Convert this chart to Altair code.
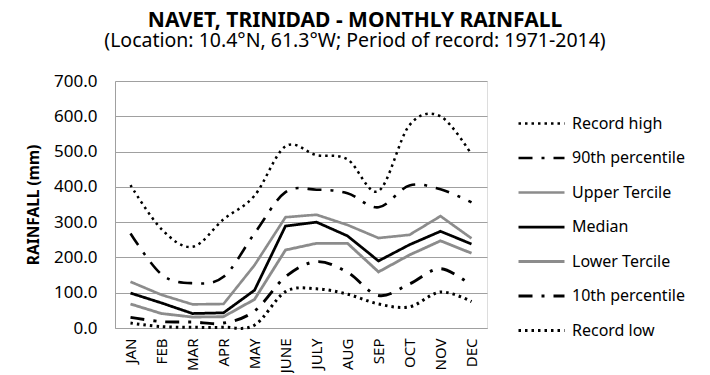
import altair as alt
import pandas as pd

months = ["JAN", "FEB", "MAR", "APR", "MAY", "JUNE", "JULY", "AUG", "SEP", "OCT", "NOV", "DEC"]
series_names = ["Record high", "90th percentile", "Upper Tercile", "Median",
                "Lower Tercile", "10th percentile", "Record low"]

record_high = [405, 280, 230, 308, 375, 515, 490, 478, 388, 575, 600, 492]
p90 = [268, 152, 127, 145, 268, 385, 392, 382, 342, 404, 393, 356]
upper_tercile = [131, 94, 67, 68, 178, 314, 321, 292, 255, 264, 317, 254]
median = [99, 71, 41, 43, 107, 289, 300, 261, 190, 236, 274, 238]
lower_tercile = [68, 41, 31, 32, 81, 221, 240, 240, 159, 207, 247, 212]
p10 = [30, 18, 17, 14, 48, 145, 188, 158, 92, 125, 168, 120]
record_low = [14, 4, 2, 2, 8, 103, 111, 96, 68, 60, 102, 75]

all_values = [record_high, p90, upper_tercile, median, lower_tercile, p10, record_low]
smooth_names = ["Record high", "90th percentile", "10th percentile", "Record low"]

rows = []
for name, vals in zip(series_names, all_values):
    for m, v in zip(months, vals):
        rows.append({"month": m, "value": v, "series": name,
                     "smooth": name in smooth_names})
df = pd.DataFrame(rows)

FONT = "Noto Sans"
dot = [2.5, 4]
dashdot = [14, 9, 3, 9]
colors = ["#000000", "#000000", "#8c8c8c", "#000000", "#8c8c8c", "#000000", "#000000"]
dashes = [dot, dashdot, [1, 0], [1, 0], [1, 0], dashdot, dot]
widths = [2.5, 3, 3, 3, 3, 3, 2.5]

legend = alt.Legend(title=None, orient="none", legendX=402, legendY=18,
                    symbolType="stroke", symbolSize=2116, labelFontSize=16,
                    labelFont=FONT, labelColor="#000000", rowPadding=1.5,
                    labelOffset=6, symbolStrokeColor="#000000")

enc = dict(
    x=alt.X("month:N", sort=months, scale=alt.Scale(type="point", padding=0.5),
            axis=alt.Axis(title=None, labelAngle=270, ticks=False, labelFontSize=15,
                          labelFont=FONT, labelColor="#000000", labelPadding=10,
                          domainColor="#a0a0a0", grid=False)),
    y=alt.Y("value:Q", scale=alt.Scale(domain=[0, 700], nice=False),
            axis=alt.Axis(title="RAINFALL (mm)", values=[0, 100, 200, 300, 400, 500, 600, 700],
                          format=".1f", ticks=False, labelFontSize=17, labelFont=FONT,
                          labelColor="#000000", labelPadding=18, domainColor="#a0a0a0",
                          gridColor="#a0a0a0", titleFont=FONT, titleFontSize=15.5,
                          titleFontWeight="bold", titleColor="#000000", titlePadding=12)),
    color=alt.Color("series:N", scale=alt.Scale(domain=series_names, range=colors), legend=legend),
    strokeDash=alt.StrokeDash("series:N", scale=alt.Scale(domain=series_names, range=dashes), legend=legend),
    strokeWidth=alt.StrokeWidth("series:N", scale=alt.Scale(domain=series_names, range=widths), legend=legend),
    detail="series:N",
)

smooth_layer = alt.Chart(df).transform_filter("datum.smooth").mark_line(interpolate="cardinal").encode(**enc)
straight_layer = alt.Chart(df).transform_filter("!datum.smooth").mark_line().encode(**enc)

chart = alt.layer(straight_layer, smooth_layer).properties(
    width=372, height=247,
    title=alt.TitleParams(
        text="NAVET, TRINIDAD - MONTHLY RAINFALL",
        subtitle="(Location: 10.4°N, 61.3°W; Period of record: 1971-2014)",
        font=FONT, fontSize=21, fontWeight="bold", color="#000000",
        subtitleFont=FONT, subtitleFontSize=19.5, subtitleColor="#000000",
        anchor="middle", frame="group", dx=54, offset=22, subtitlePadding=1),
    autosize=alt.AutoSizeParams(type="none"),
    padding={"left": 107, "top": 73, "right": 215, "bottom": 45},
).configure_view(stroke=None).configure(background="white")

chart.save("out.html", embed_options={"renderer": "svg", "actions": False})
